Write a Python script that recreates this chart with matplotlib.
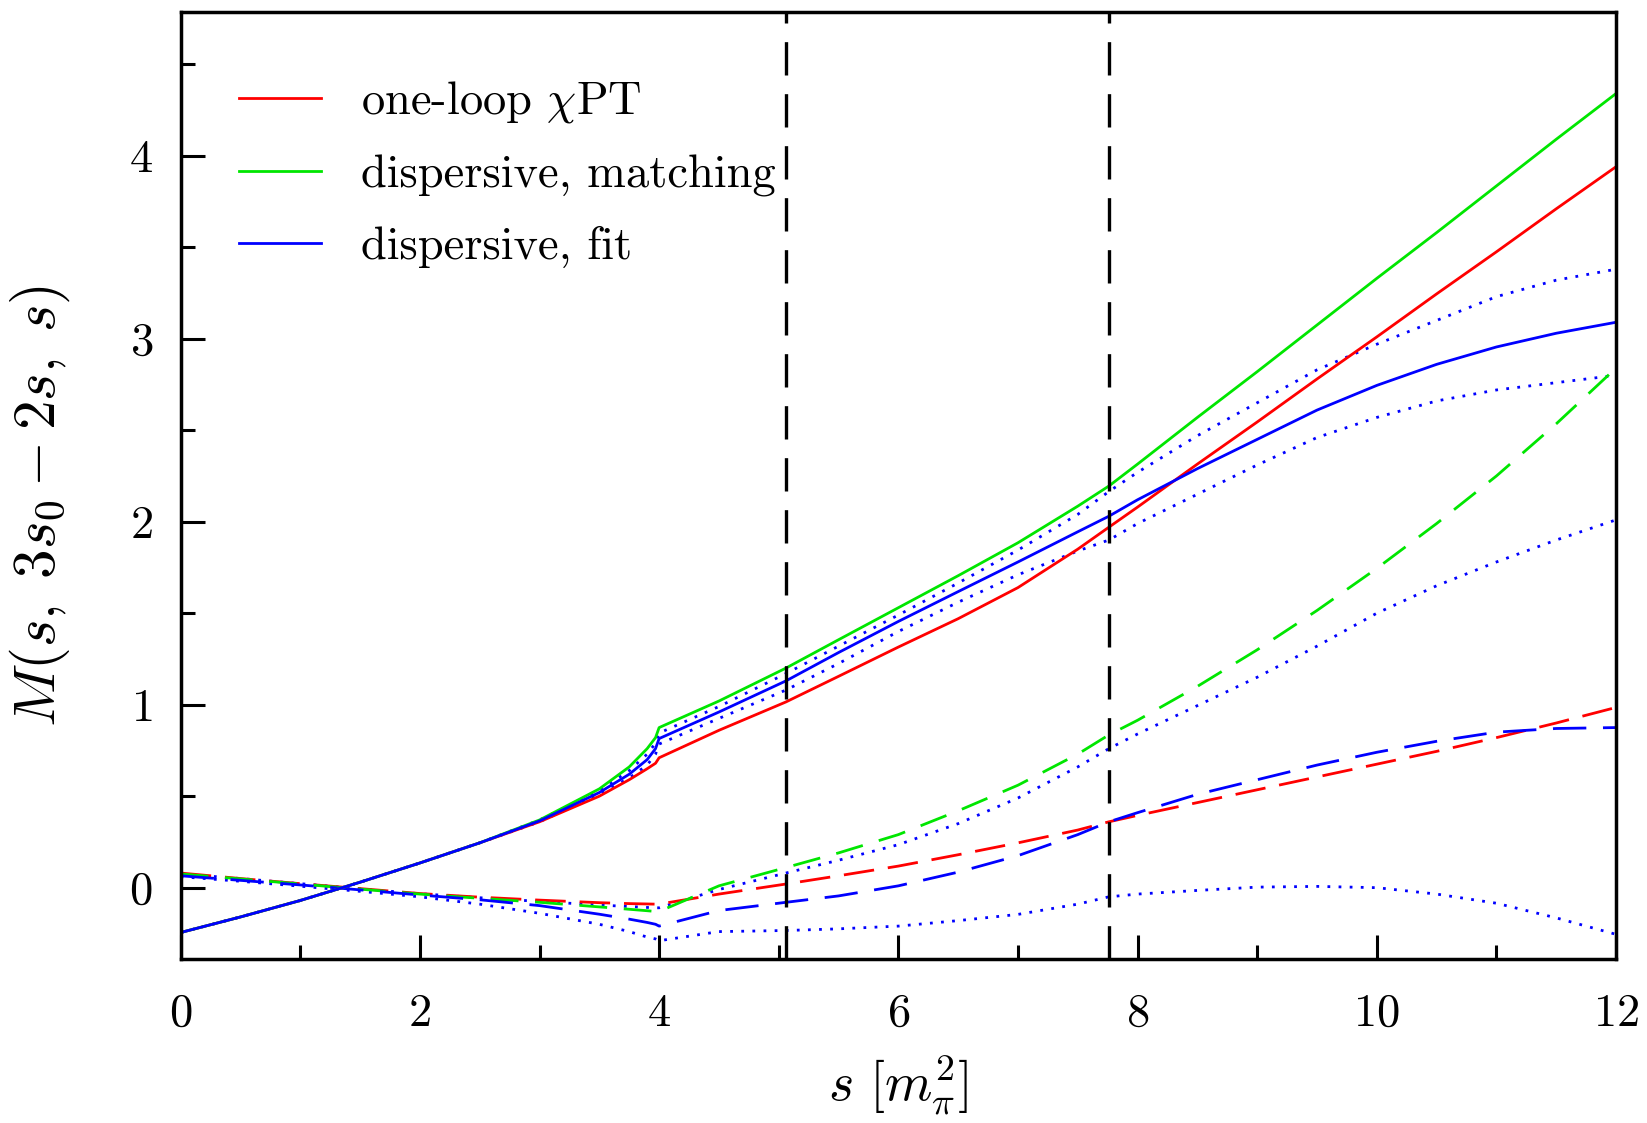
import matplotlib
matplotlib.use("Agg")
import matplotlib.pyplot as plt
from matplotlib.ticker import MultipleLocator

plt.rcParams['font.family'] = ['cmr10', 'DejaVu Serif']
plt.rcParams['mathtext.fontset'] = 'cm'
plt.rcParams['axes.formatter.use_mathtext'] = True

# ---- data ----
s = [0, 0.5, 1, 1.5, 2, 2.5, 3, 3.5, 3.75, 3.9, 3.97, 4.0, 4.5, 5.06, 5.5, 6, 6.5, 7,
     7.5, 7.76, 8, 8.5, 9, 9.5, 10, 10.5, 11, 11.5, 12]

red_solid = [-0.245, -0.16, -0.07, 0.03, 0.135, 0.245, 0.36, 0.50, 0.59, 0.65, 0.68, 0.71,
             0.86, 1.015, 1.155, 1.315, 1.47, 1.64, 1.85, 1.97, 2.08, 2.315, 2.545, 2.78,
             3.01, 3.245, 3.475, 3.71, 3.94]
green_solid = [-0.245, -0.16, -0.07, 0.03, 0.135, 0.245, 0.37, 0.54, 0.66, 0.76, 0.82, 0.875,
               1.02, 1.20, 1.355, 1.53, 1.705, 1.885, 2.085, 2.195, 2.315, 2.57, 2.82, 3.075,
               3.33, 3.58, 3.835, 4.09, 4.34]
blue_solid = [-0.245, -0.16, -0.07, 0.03, 0.135, 0.245, 0.365, 0.52, 0.62, 0.70, 0.76, 0.815,
              0.96, 1.13, 1.285, 1.455, 1.618, 1.78, 1.945, 2.03, 2.12, 2.29, 2.45, 2.61, 2.745,
              2.86, 2.955, 3.03, 3.09]
blue_solid_hi = [-0.245, -0.16, -0.07, 0.03, 0.135, 0.245, 0.37, 0.53, 0.64, 0.73, 0.79, 0.845,
                 0.99, 1.17, 1.32, 1.49, 1.665, 1.845, 2.04, 2.165, 2.27, 2.47, 2.65, 2.83, 2.97,
                 3.10, 3.23, 3.32, 3.38]
blue_solid_lo = [-0.245, -0.16, -0.07, 0.03, 0.135, 0.245, 0.36, 0.51, 0.60, 0.67, 0.73, 0.785,
                 0.925, 1.08, 1.225, 1.40, 1.56, 1.71, 1.84, 1.90, 1.99, 2.15, 2.31, 2.46, 2.57,
                 2.66, 2.72, 2.76, 2.80]

red_dash = [0.08, 0.05, 0.022, -0.005, -0.032, -0.052, -0.068, -0.082, -0.087, -0.089, -0.09,
            -0.09, -0.035, 0.02, 0.065, 0.118, 0.18, 0.245, 0.315, 0.36, 0.395, 0.465, 0.535,
            0.605, 0.675, 0.745, 0.82, 0.90, 0.985]
green_dash = [0.075, 0.048, 0.02, -0.008, -0.035, -0.058, -0.08, -0.105, -0.118, -0.126, -0.13,
              -0.13, 0.01, 0.11, 0.19, 0.29, 0.42, 0.56, 0.73, 0.835, 0.915, 1.10, 1.30, 1.515,
              1.745, 1.99, 2.25, 2.535, 2.84]
blue_dash = [0.065, 0.04, 0.015, -0.012, -0.04, -0.066, -0.098, -0.145, -0.172, -0.19, -0.2,
             -0.21, -0.125, -0.08, -0.045, 0.01, 0.085, 0.175, 0.29, 0.36, 0.41, 0.51, 0.59,
             0.67, 0.74, 0.80, 0.85, 0.87, 0.875]
blue_dash_hi = [0.075, 0.05, 0.022, -0.006, -0.033, -0.055, -0.075, -0.095, -0.103, -0.108,
                -0.11, -0.11, -0.01, 0.08, 0.15, 0.235, 0.35, 0.49, 0.66, 0.76, 0.84, 0.995,
                1.15, 1.32, 1.50, 1.65, 1.78, 1.90, 2.01]
blue_dash_lo = [0.06, 0.035, 0.008, -0.02, -0.05, -0.09, -0.14, -0.20, -0.24, -0.27, -0.28,
                -0.29, -0.24, -0.234, -0.225, -0.21, -0.18, -0.146, -0.09, -0.05, -0.035,
                -0.015, 0.003, 0.007, 0.0, -0.035, -0.085, -0.165, -0.255]

vlines = [5.06, 7.76]
labels = ["one-loop $\\chi$PT", "dispersive, matching", "dispersive, fit"]

RED = "#ff0000"
GREEN = "#00e600"
BLUE = "#0000ff"

fig = plt.figure(figsize=(16.47, 11.23), dpi=100)
ax = fig.add_axes([0.1097, 0.146, 0.8715, 0.8437])

lw = 2.0
dot = dict(color=BLUE, lw=lw, dashes=(1.0, 3.0), dash_capstyle='butt')

ax.plot(s, blue_solid_hi, **dot)
ax.plot(s, blue_solid_lo, **dot)
ax.plot(s, blue_dash_hi, **dot)
ax.plot(s, blue_dash_lo, **dot)

ax.plot(s, red_dash, color=RED, lw=lw, dashes=(11, 5))
ax.plot(s, green_dash, color=GREEN, lw=lw, dashes=(10, 6))
ax.plot(s, blue_dash, color=BLUE, lw=lw, dashes=(12, 6))

h1, = ax.plot(s, red_solid, color=RED, lw=lw, label=labels[0])
h2, = ax.plot(s, green_solid, color=GREEN, lw=lw, label=labels[1])
h3, = ax.plot(s, blue_solid, color=BLUE, lw=lw, label=labels[2])

for v in vlines:
    ax.axvline(v, color='black', lw=2.4, dashes=(10, 5.6))

ax.set_xlim(0, 12)
ax.set_ylim(-0.39, 4.788)

ax.xaxis.set_major_locator(MultipleLocator(2))
ax.xaxis.set_minor_locator(MultipleLocator(1))
ax.yaxis.set_major_locator(MultipleLocator(1))
ax.yaxis.set_minor_locator(MultipleLocator(0.5))

ax.tick_params(which='both', direction='in', top=False, right=False,
               labelsize=33.5, width=2.2)
ax.tick_params(axis='x', which='both', pad=24.5)
ax.tick_params(axis='y', which='both', pad=20)
ax.tick_params(which='major', length=17)
ax.tick_params(which='minor', length=10)
for sp in ax.spines.values():
    sp.set_linewidth(2.5)

ax.set_xlabel(r"$s\ [m_\pi^2]$", fontsize=39)
ax.set_ylabel(r"$M(s,\;3s_0-2s,\;s)$", fontsize=42.5)
ax.xaxis.set_label_coords(0.5, -0.1)
ax.yaxis.set_label_coords(-0.076, 0.478)

ax.legend(handles=[h1, h2, h3], loc='upper left', frameon=False, fontsize=33.5,
          handlelength=1.75, handletextpad=0.86, labelspacing=0.63,
          borderaxespad=0.0, bbox_to_anchor=(0.028, 0.948))

fig.savefig("out.png", dpi=100)
